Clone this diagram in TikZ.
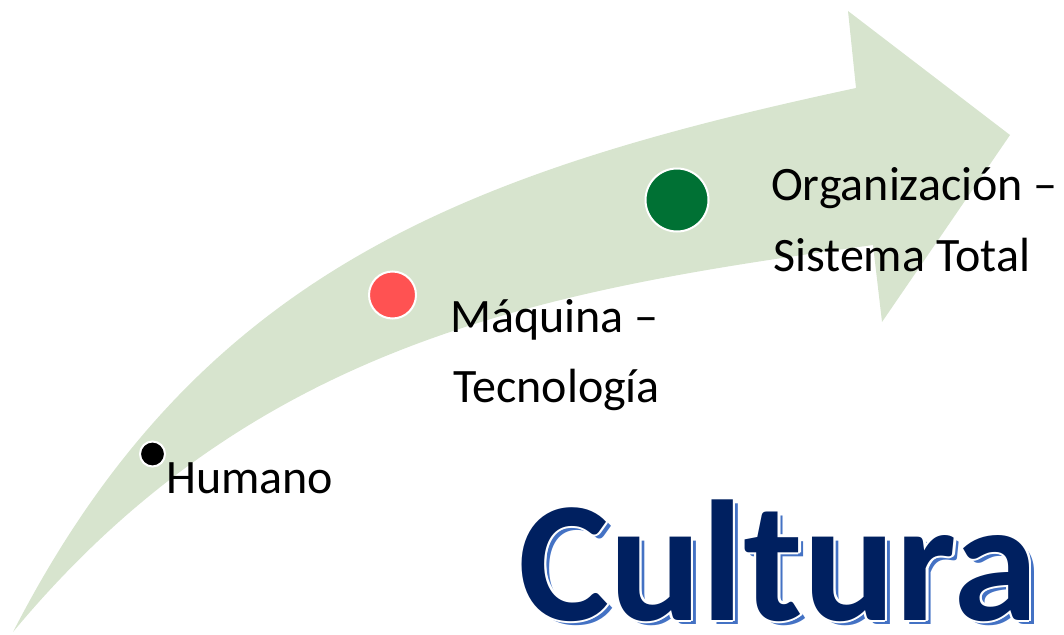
\documentclass[tikz,border=0pt]{standalone}
\usepackage{fontspec}
\setmainfont{Carlito}
\usetikzlibrary{calc}
\definecolor{arrowgreen}{RGB}{215,228,206}
\definecolor{dotred}{RGB}{255,82,82}
\definecolor{dotgreen}{RGB}{0,113,52}
\definecolor{navy}{RGB}{0,32,96}
\definecolor{shadowblue}{RGB}{68,114,196}
\begin{document}
\begin{tikzpicture}[x=1pt,y=-1pt,
  lbl/.style={anchor=base west, inner sep=0pt, font=\fontsize{48}{56}\selectfont},
  dot/.style={circle, draw=white, line width=2pt, inner sep=0pt},
  cult/.style={anchor=base west, inner sep=0pt, font=\fontsize{172}{172}\selectfont\bfseries}]
\useasboundingbox (0,0) rectangle (1064,634);
% curved arrow
\fill[arrowgreen] (13,632) .. controls (198,272) and (464,172) .. (856,88)
  -- (848,11) -- (1010,135) -- (882,322) -- (873,245)
  .. controls (547,290) and (256,339.5) .. (13,632) -- cycle;
% dots
\node[dot, fill=black, minimum size=25pt] (humdot) at (152.5,454) {};
\node[dot, fill=dotred, minimum size=47pt] (maqdot) at (392.5,295) {};
\node[dot, fill=dotgreen, minimum size=63pt] (orgdot) at (677,200) {};
% labels
\node[lbl] (hum) at (166,493) {Humano};
\node[lbl] (maq1) at (450,332) {Máquina –};
\node[lbl] (maq2) at (453,402) {Tecnología};
\node[lbl] (org1) at (771,200) {Organización –};
\node[lbl] (org2) at (773,271) {Sistema Total};
% Cultura
\node[cult, text=shadowblue] (cultshadow) at (523,624) {Cultura};
\foreach \a in {0,30,...,330}{
  \node[cult, text=white] (cultw\a) at ($(518,620)+(\a:2.2)$) {Cultura};
}
\node[cult, text=navy] (cultura) at (518,620) {Cultura};
\end{tikzpicture}
\end{document}
